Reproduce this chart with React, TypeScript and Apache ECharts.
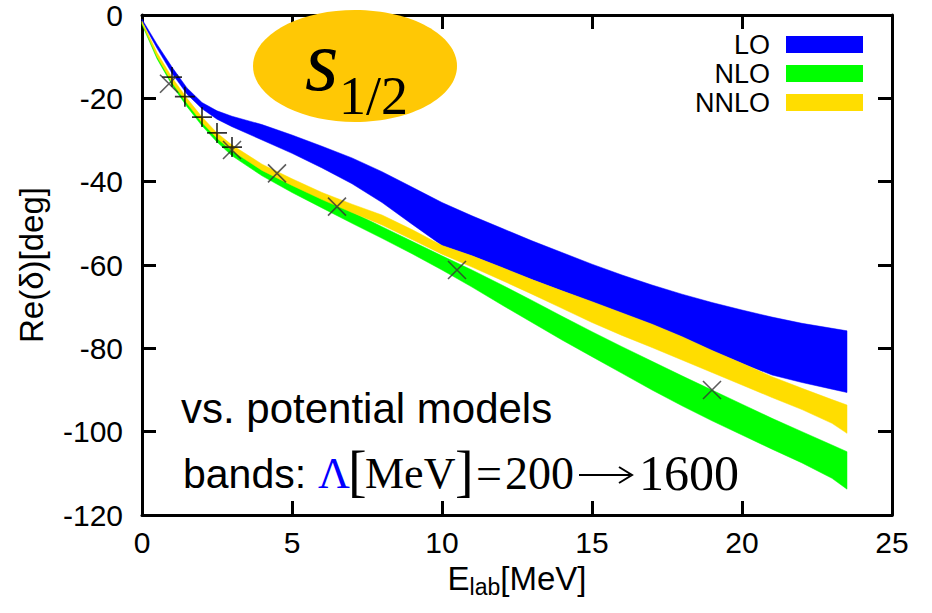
import React, { useEffect, useRef } from 'react';
import * as echarts from 'echarts';

const SANS = '"Liberation Sans", Arial, sans-serif';
const SERIF = '"Liberation Serif", "Times New Roman", serif';

// lab energy grid (MeV)
const energies = [0, 0.5, 1, 1.5, 2, 2.5, 3, 4, 5, 6, 7, 8, 9, 10, 11, 12, 13, 14, 15, 16, 17, 18, 19, 20, 21, 22, 23, 23.5];

// LO band (blue)
const loUpper = [-1, -7, -12.5, -17.5, -21, -23, -24.3, -26.3, -28.8, -31.5, -34.3, -37.6, -41.3, -45, -48.2, -51.2, -54.2, -57, -59.8, -62.4, -64.8, -67, -69, -70.8, -72.5, -74, -75.2, -75.8];
const loLower = [-1.5, -8, -14, -19, -22.5, -25, -26.8, -30, -33.2, -36.7, -40.5, -45, -50.2, -55.3, -57.8, -60.6, -63.5, -66.2, -68.8, -71.5, -74.2, -77.2, -80.5, -83.6, -86.4, -88.2, -89.8, -90.6];

// NLO band (green)
const nloUpper = [-1.8, -9.5, -15.6, -20.8, -25.2, -29, -32, -36.6, -40.3, -43.8, -47.3, -50.8, -54.3, -57.8, -61.2, -64.8, -68.5, -72.3, -76, -79.6, -83.1, -86.6, -90, -93.4, -96.8, -100, -103.2, -104.8];
const nloLower = [-2.3, -10.5, -16.8, -22, -26.6, -30.5, -33.8, -38.6, -42.6, -46.3, -50, -53.6, -57.3, -61.2, -65.3, -69.6, -73.8, -78, -82, -86, -90, -93.8, -97.4, -100.8, -104.2, -107.5, -111.2, -113.8];

// NNLO band (yellow)
const nnloUpper = [-1.5, -9, -15, -20, -24.5, -28.3, -31.2, -35.8, -39.3, -42.6, -45.4, -48, -51.5, -55.3, -57.8, -60.6, -63.5, -66.2, -68.8, -71.5, -74.2, -77.2, -80.5, -83.6, -86.8, -89.6, -92.3, -93.6];
const nnloLower = [-2, -10, -16.2, -21.2, -25.8, -29.6, -32.6, -37.3, -40.9, -44.3, -47.4, -50.4, -53.9, -57.4, -60.5, -63.7, -67, -70.4, -73.8, -76.9, -79.8, -82.8, -85.8, -88.8, -91.8, -94.7, -98, -100.4];

// potential-model points
const plusX = [1.0, 1.43, 2.0, 2.5, 3.0];
const plusY = [-14.9, -19.6, -24.5, -28.3, -31.7];
const crossX = [0.9, 3.0, 4.5, 6.5, 10.5, 19.0];
const crossY = [-16.5, -32.4, -38.0, -46.0, -61.2, -90.0];

const legendNames = ['LO', 'NLO', 'NNLO'];
const bandColors = ['#0000FF', '#00FF00', '#FFDD00'];

function bandSeries(name: string, lower: number[], upper: number[], color: string) {
  return {
    name,
    type: 'custom',
    coordinateSystem: 'cartesian2d',
    data: energies.map((x, i) => [x, lower[i], upper[i]]),
    encode: { x: 0, y: [1, 2] },
    itemStyle: { color },
    silent: true,
    z: 2,
    renderItem: (params: any, api: any) => {
      if (params.dataIndex !== 0) return null;
      const top = energies.map((x, i) => api.coord([x, upper[i]]));
      const bottom = energies.map((x, i) => api.coord([x, lower[i]])).reverse();
      return {
        type: 'polygon',
        shape: { points: top.concat(bottom) },
        style: { fill: color, stroke: color, lineWidth: 0.5 },
      };
    },
  };
}

const frameLine = { show: true, onZero: false, lineStyle: { color: '#000', width: 3 } };
const frameTick = { show: true, inside: true, length: 14, lineStyle: { color: '#000', width: 3 } };

export default function App() {
  const ref = useRef<HTMLDivElement>(null);
  useEffect(() => {
    if (!ref.current) return;
    const chart = echarts.init(ref.current, undefined, { renderer: 'svg' });
    const option: any = {
      animation: false,
      backgroundColor: '#fff',
      grid: { left: 142, right: 40, top: 15, bottom: 98 },
      legend: {
        data: legendNames.map((n, i) => ({ name: n, itemStyle: { color: bandColors[i], opacity: 1 } })),
        orient: 'vertical',
        align: 'right',
        right: 69,
        top: 31,
        padding: 0,
        itemWidth: 77,
        itemHeight: 17,
        itemGap: 2,
        icon: 'rect',
        selectedMode: false,
        textStyle: { fontSize: 27, color: '#000', fontFamily: SANS, padding: [0, 11, 0, 0] },
      },
      xAxis: [
        {
          type: 'value', min: 0, max: 25, interval: 5, position: 'bottom',
          axisLine: frameLine, axisTick: frameTick, splitLine: { show: false },
          axisLabel: { fontSize: 30, color: '#000', fontFamily: SANS, margin: 12 },
          name: '{a|E}{b|lab}{a|[MeV]}',
          nameLocation: 'middle',
          nameGap: 44,
          nameTextStyle: {
            rich: {
              a: { fontSize: 33, color: '#000', fontFamily: SANS },
              b: { fontSize: 23, color: '#000', fontFamily: SANS, padding: [16, 0, 0, 0] },
            },
          },
        },
        {
          type: 'value', min: 0, max: 25, interval: 5, position: 'top',
          axisLine: frameLine, axisTick: frameTick, splitLine: { show: false },
          axisLabel: { show: false },
        },
      ],
      yAxis: [
        {
          type: 'value', min: -120, max: 0, interval: 20, position: 'left',
          axisLine: frameLine, axisTick: frameTick, splitLine: { show: false },
          axisLabel: { fontSize: 30, color: '#000', fontFamily: SANS, margin: 19 },
          name: 'Re(δ)[deg]',
          nameLocation: 'middle',
          nameGap: 94,
          nameTextStyle: { fontSize: 33, color: '#000', fontFamily: SANS },
        },
        {
          type: 'value', min: -120, max: 0, interval: 20, position: 'right',
          axisLine: frameLine, axisTick: frameTick, splitLine: { show: false },
          axisLabel: { show: false },
        },
      ],
      series: [
        bandSeries('LO', loLower, loUpper, bandColors[0]),
        bandSeries('NLO', nloLower, nloUpper, bandColors[1]),
        bandSeries('NNLO', nnloLower, nnloUpper, bandColors[2]),
        {
          name: 'plus points',
          type: 'scatter',
          data: plusX.map((x, i) => [x, plusY[i]]),
          symbol: 'path://M10 0V20M0 10H20',
          symbolSize: 20,
          itemStyle: { color: 'transparent', borderColor: '#000', borderWidth: 1.7 },
          silent: true,
          z: 5,
        },
        {
          name: 'cross points',
          type: 'scatter',
          data: crossX.map((x, i) => [x, crossY[i]]),
          symbol: 'path://M0 0L20 20M20 0L0 20',
          symbolSize: 18,
          itemStyle: { color: 'transparent', borderColor: '#333', borderWidth: 1.6 },
          silent: true,
          z: 5,
        },
      ],
      graphic: [
        { type: 'ellipse', z: 100, shape: { cx: 355, cy: 66, rx: 102, ry: 56 }, style: { fill: '#FFC805' } },
        { type: 'text', z: 101, x: 305, y: 61, style: { text: 's', font: 'italic 86px ' + SERIF, fill: '#000', textAlign: 'left', textVerticalAlign: 'middle' } },
        { type: 'text', z: 101, x: 339, y: 96, style: { text: '1/2', font: '54px ' + SERIF, fill: '#000', textAlign: 'left', textVerticalAlign: 'middle' } },
        { type: 'text', z: 101, x: 181, y: 408, style: { text: 'vs. potential models', font: '42px ' + SANS, fill: '#000', textAlign: 'left', textVerticalAlign: 'middle' } },
        { type: 'text', z: 101, x: 183, y: 474, style: { text: 'bands:', font: '41px ' + SANS, fill: '#000', textAlign: 'left', textVerticalAlign: 'middle' } },
        { type: 'text', z: 101, x: 318, y: 473, style: { text: 'Λ', font: '44px ' + SERIF, fill: '#0000FF', textAlign: 'left', textVerticalAlign: 'middle' } },
        { type: 'text', z: 101, x: 348, y: 471, style: { text: '[', font: '56px ' + SERIF, fill: '#000', textAlign: 'left', textVerticalAlign: 'middle' } },
        { type: 'text', z: 101, x: 365, y: 473, style: { text: 'MeV', font: '44px ' + SERIF, fill: '#000', textAlign: 'left', textVerticalAlign: 'middle' } },
        { type: 'text', z: 101, x: 455, y: 471, style: { text: ']', font: '56px ' + SERIF, fill: '#000', textAlign: 'left', textVerticalAlign: 'middle' } },
        { type: 'text', z: 101, x: 476, y: 473, style: { text: '=', font: '46px ' + SERIF, fill: '#000', textAlign: 'left', textVerticalAlign: 'middle' } },
        { type: 'text', z: 101, x: 505, y: 473, style: { text: '200', font: '46px ' + SERIF, fill: '#000', textAlign: 'left', textVerticalAlign: 'middle' } },
        { type: 'line', z: 101, shape: { x1: 579, y1: 475, x2: 630, y2: 475 }, style: { stroke: '#000', lineWidth: 2 } },
        { type: 'polyline', z: 101, shape: { points: [[619, 467], [632, 475], [619, 483]] }, style: { stroke: '#000', lineWidth: 2, fill: 'none' } },
        { type: 'text', z: 101, x: 639, y: 473, style: { text: '1600', font: '50px ' + SERIF, fill: '#000', textAlign: 'left', textVerticalAlign: 'middle' } },
      ],
    };
    chart.setOption(option);
    return () => chart.dispose();
  }, []);
  return <div ref={ref} style={{ width: 932, height: 613, position: 'absolute', left: 0, top: 0 }} />;
}
